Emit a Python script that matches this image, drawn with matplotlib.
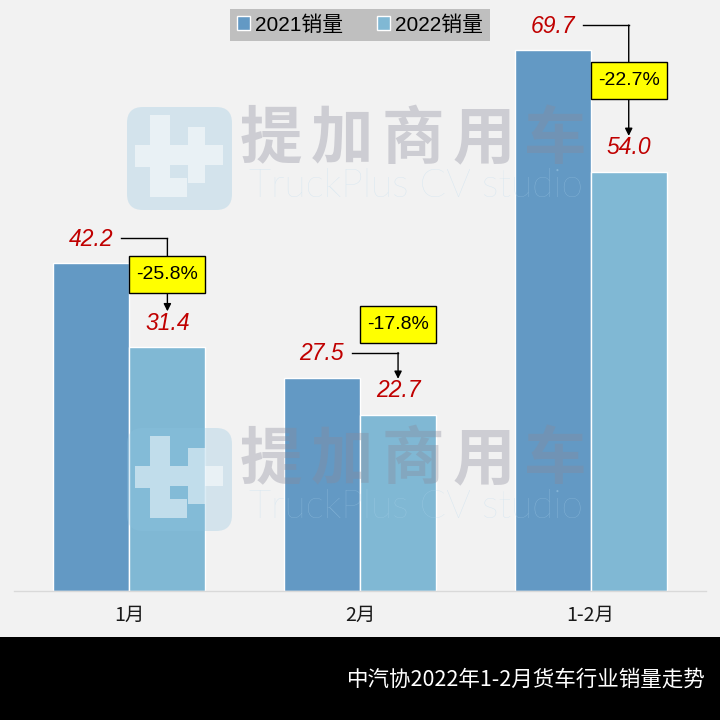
import matplotlib
matplotlib.use("Agg")
import matplotlib.pyplot as plt
from matplotlib.patches import Rectangle, FancyBboxPatch, Patch, PathPatch
from matplotlib.path import Path
from matplotlib.lines import Line2D

# ---------------- data ----------------
categories = ["1月", "2月", "1-2月"]
sales_2021 = [42.2, 27.5, 69.7]
sales_2022 = [31.4, 22.7, 54.0]
changes = [-25.8, -17.8, -22.7]
series_names = ["2021销量", "2022销量"]
title = "中汽协2022年1-2月货车行业销量走势"

# ---------------- style ----------------
C2021 = "#6399c4"
C2022 = "#80b8d4"
BG = "#f2f2f2"
RED = "#c00000"
W, H = 720, 720
DPI = 100

fig = plt.figure(figsize=(W / DPI, H / DPI), dpi=DPI, facecolor=BG)
ax = fig.add_axes([14 / W, 129 / H, 692 / W, 591 / H])
ax.set_facecolor("none")
ax.set_xlim(-0.5, 2.5)
ax.set_ylim(0, 76.15)

bw = 0.33
xs = list(range(len(categories)))
x21 = [x - bw / 2 for x in xs]
x22 = [x + bw / 2 for x in xs]
ax.bar(x21, sales_2021, width=bw, color=C2021, edgecolor="white", linewidth=1, zorder=2)
ax.bar(x22, sales_2022, width=bw, color=C2022, edgecolor="white", linewidth=1, zorder=2)

for s in ["top", "left", "right"]:
    ax.spines[s].set_visible(False)
ax.spines["bottom"].set_color("#d9d9d9")
ax.spines["bottom"].set_linewidth(1)
ax.set_yticks([])
ax.set_xticks(xs)
ax.set_xticklabels(categories, fontsize=14, family=["Noto Sans CJK SC", "DejaVu Sans"], color="#1a1a1a")
ax.tick_params(axis="x", length=0, pad=10)

# value labels
lab_off = 24
for xa, xb, a, b in zip(x21, x22, sales_2021, sales_2022):
    for x, v in ((xa, a), (xb, b)):
        ax.annotate(f"{v:.1f}", (x, v), xytext=(0, lab_off), textcoords="offset pixels",
                    ha="center", va="center", fontsize=16.5, style="italic",
                    family="Liberation Sans", color=RED, zorder=5)

# connectors and change boxes
inv = fig.transFigure.inverted()
def to_fig(x, y, dx=0, dy=0):
    px, py = ax.transData.transform((x, y))
    return inv.transform((px + dx, py + dy))

bw_px = ax.transData.transform((bw, 0))[0] - ax.transData.transform((0, 0))[0]
box_h = 37
for xa, xb, a, b, c in zip(x21, x22, sales_2021, sales_2022, changes):
    start = to_fig(xa, a, 30, lab_off + 1)
    corner = to_fig(xb, a, 0, lab_off + 1)
    tip = to_fig(xb, b, 0, 36)
    fig.add_artist(Line2D([start[0], corner[0]], [start[1], corner[1]], color="black", lw=1, zorder=6))
    ax.annotate("", xy=tip, xytext=corner, xycoords="figure fraction", textcoords="figure fraction",
                arrowprops=dict(arrowstyle="-|>", color="black", lw=1, mutation_scale=11,
                                shrinkA=0, shrinkB=0), zorder=6)
    cx_px, cy1 = ax.transData.transform((xb, a))
    _, cy2 = ax.transData.transform((xb, b))
    top_px = cy1 + lab_off + 1
    tip_px = cy2 + 36
    if top_px - tip_px > box_h + 20:
        mid = (top_px + tip_px) / 2
    else:
        mid = top_px + 10 + box_h / 2
    ll = inv.transform((cx_px - bw_px / 2, mid - box_h / 2))
    ur = inv.transform((cx_px + bw_px / 2, mid + box_h / 2))
    fig.add_artist(Rectangle(ll, ur[0] - ll[0], ur[1] - ll[1], transform=fig.transFigure,
                             facecolor="#ffff00", edgecolor="black", lw=1, zorder=7))
    cc = inv.transform((cx_px, mid))
    fig.text(cc[0], cc[1], f"{c:.1f}%", ha="center", va="center", fontsize=14,
             family="Liberation Sans", color="black", zorder=8)

# legend
handles = [Patch(facecolor=C2021, edgecolor="white", lw=1),
           Patch(facecolor=C2022, edgecolor="white", lw=1)]
leg = fig.legend(handles, series_names, loc="center", bbox_to_anchor=(360 / W, 1 - 25 / H),
                 ncol=2, frameon=True, fancybox=False, handlelength=0.65, handleheight=0.65,
                 handletextpad=0.25, columnspacing=1.6, borderpad=0.3, borderaxespad=0,
                 prop={"family": ["Liberation Sans", "Noto Sans CJK SC"], "size": 15})
leg.get_frame().set_facecolor("#bfbfbf")
leg.get_frame().set_edgecolor("none")
leg.get_frame().set_alpha(1)

# watermark
def watermark(x0, y0):
    def fx(px):
        return px / W
    def fy(py):
        return 1 - py / H
    fig.add_artist(FancyBboxPatch((fx(x0), fy(y0 + 105)), 105 / W, 103 / H,
                                  boxstyle="round,pad=0,rounding_size=0.022",
                                  transform=fig.transFigure, facecolor="#8cc3e0",
                                  edgecolor="none", alpha=0.3, zorder=9))
    # "t+" glyph inside logo, as one compound path so overlaps blend once
    rects = [(23, 10, 20, 80), (8, 40, 35, 22), (23, 73, 37, 19),
             (61, 22, 17, 56), (43, 40, 53, 20)]
    paths = []
    for rx, ry, rw, rh in rects:
        x1, x2 = fx(x0 + rx), fx(x0 + rx + rw)
        y1, y2 = fy(y0 + ry + rh), fy(y0 + ry)
        paths.append(Path([(x1, y1), (x2, y1), (x2, y2), (x1, y2), (x1, y1)],
                          [Path.MOVETO, Path.LINETO, Path.LINETO, Path.LINETO, Path.CLOSEPOLY]))
    fig.add_artist(PathPatch(Path.make_compound_path(*paths), transform=fig.transFigure,
                             facecolor="white", edgecolor="none", alpha=0.5, zorder=9))
    for i, ch in enumerate("提加商用车"):
        fig.text(fx(x0 + 144 + 71 * i), fy(y0 + 34), ch, ha="center", va="center",
                 fontsize=45, fontweight=900, family="Noto Sans CJK SC",
                 color="#8a8a9a", alpha=0.35, zorder=9)
    fig.text(fx(x0 + 122), fy(y0 + 92), "TruckPlus CV studio", ha="left", va="baseline",
             fontsize=28, fontweight="light", family="Lato", color="#b0d6ee",
             alpha=0.45, zorder=9)

watermark(127, 105)
watermark(127, 426)

# bottom band
fig.add_artist(Rectangle((0, 0), 1, 83 / H, transform=fig.transFigure, facecolor="black",
                         edgecolor="none", zorder=1))
fig.text(706 / W, 1 - 680 / H, title, ha="right", va="center", fontsize=15.5,
         family=["Noto Sans CJK SC", "DejaVu Sans"], color="white", zorder=10)

fig.savefig("out.png", dpi=DPI, facecolor=BG)
